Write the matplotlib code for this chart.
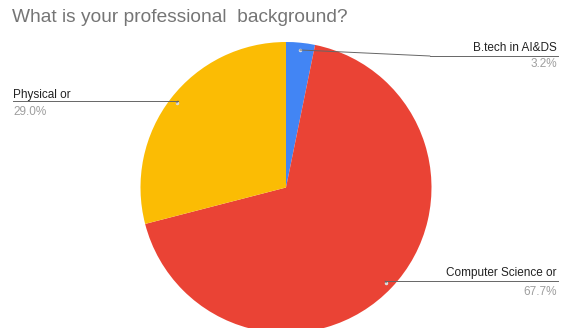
import matplotlib
matplotlib.use("Agg")
import matplotlib.pyplot as plt
import numpy as np
from matplotlib.patches import ConnectionPatch

categories = ["B.tech in AI&DS", "Computer Science or", "Physical or"]
values = [3.2, 67.7, 29.0]
colors = ["#4285F4", "#EA4335", "#FBBC04"]
title = "What is your professional  background?"

W, H = 561, 328
fig = plt.figure(figsize=(W / 100, H / 100), dpi=100)
plt.rcParams['font.family'] = ['Liberation Sans', 'DejaVu Sans']

cx, cy, r = 286, 187.5, 145.5
ax = fig.add_axes([(cx - r) / W, (H - cy - r) / H, 2 * r / W, 2 * r / H])
wedges, _ = ax.pie(values, colors=colors, startangle=90, counterclock=False,
                   radius=1.0, wedgeprops=dict(linewidth=0))
ax.set_xlim(-1, 1)
ax.set_ylim(-1, 1)
ax.set_aspect('equal')
ax.axis('off')

fig.text(12 / W, 1 - 18 / H, title, fontsize=13.8, color="#757575",
         va='center', ha='left')

# label layout: (text x, align, name y, line y, pct y, elbow x, line end x)
layouts = [
    (557, 'right', 48, 56, 64, 430, 558),
    (557, 'right', 273, 281, 292, 385, 558),
    (13, 'left', 95, 101, 112, 178, 13),
]

def to_fig(px, py):
    return (px / W, 1 - py / H)

for w, name, v, lay in zip(wedges, categories, values, layouts):
    tx, ha, ny, ly, py, ex, lx = lay
    ang = np.deg2rad((w.theta1 + w.theta2) / 2)
    ax_pt = (0.95 * np.cos(ang), 0.95 * np.sin(ang))
    ax.plot([ax_pt[0]], [ax_pt[1]], 'o', ms=1.5, color='#dddddd', zorder=5)
    con = ConnectionPatch(xyA=ax_pt, coordsA=ax.transData,
                          xyB=to_fig(ex, ly), coordsB=fig.transFigure,
                          color='#666666', lw=0.7)
    fig.add_artist(con)
    fig.add_artist(plt.Line2D([ex / W, lx / W], [1 - ly / H, 1 - ly / H],
                              transform=fig.transFigure, color='#666666', lw=0.7))
    fig.text(tx / W, 1 - ny / H, name, fontsize=8.5, color='#222222',
             ha=ha, va='center')
    fig.text(tx / W, 1 - py / H, f"{v:.1f}%", fontsize=8.5, color='#9e9e9e',
             ha=ha, va='center')

fig.savefig("out.png", dpi=100, facecolor='white')
